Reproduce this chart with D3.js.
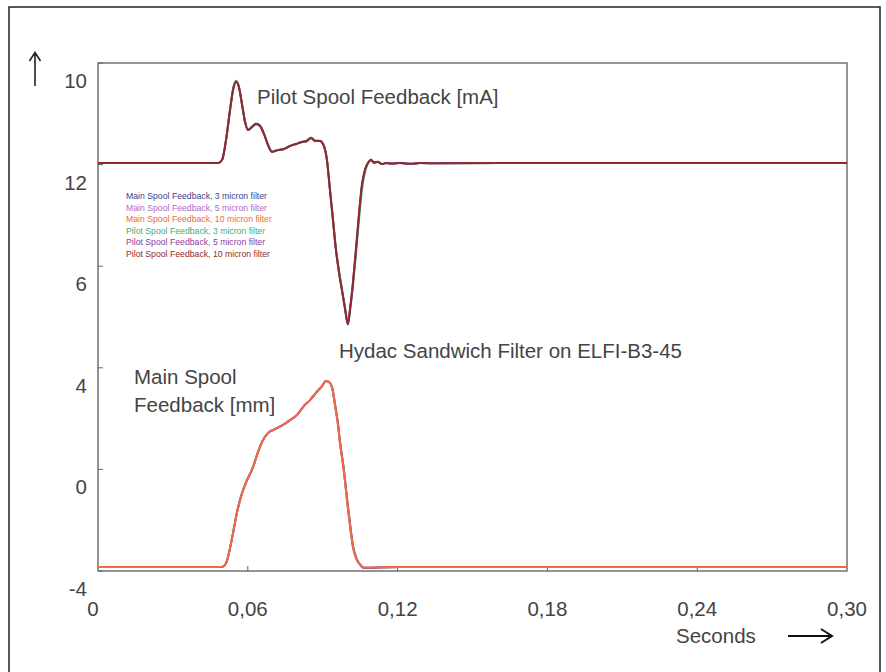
<!DOCTYPE html>
<html>
<head>
<meta charset="utf-8">
<script src="https://cdn.jsdelivr.net/npm/d3@7"></script>
<style>
  body { margin: 0; background: #fff; }
  text { font-family: "Liberation Sans", Arial, sans-serif; }
</style>
</head>
<body>
<svg id="chart"></svg>
<script>
// Time axis (seconds) and the six traces
const xTicks = [0, 0.06, 0.12, 0.18, 0.24, 0.30];
const xTickLabels = ['0', '0,06', '0,12', '0,18', '0,24', '0,30'];
const yTicks = [-4, 0, 4, 8, 12, 16];
const yTickLabels = ['-4', '0', '4', '6', '12', '10'];

const pilotTime = [0, 0.0481, 0.0497, 0.0513, 0.0529, 0.0541, 0.0553, 0.0565, 0.0577, 0.0589,
  0.0601, 0.0617, 0.0633, 0.0649, 0.0665, 0.0681, 0.0697, 0.0721, 0.0745, 0.0769,
  0.0793, 0.0817, 0.0837, 0.0853, 0.0869, 0.0889, 0.0905, 0.0917, 0.0929, 0.0941,
  0.0953, 0.0965, 0.0977, 0.0989, 0.1001, 0.1009, 0.1021, 0.1033, 0.1045, 0.1057,
  0.1069, 0.1081, 0.1093, 0.1105, 0.1121, 0.1137, 0.1153, 0.1177, 0.121, 0.125,
  0.129, 0.137, 0.161, 0.30];
const pilot3 = [12.06, 12.06, 12.2, 13.0, 14.2, 14.98, 15.3, 15.06, 14.38, 13.7,
  13.38, 13.5, 13.62, 13.54, 13.22, 12.78, 12.52, 12.58, 12.62, 12.74,
  12.82, 12.9, 12.95, 13.07, 12.95, 12.94, 12.74, 12.2, 11.05, 9.9,
  8.72, 7.85, 7.12, 6.4, 5.74, 6.2, 7.2, 8.45, 9.8, 11.0,
  11.7, 12.04, 12.2, 12.08, 12.12, 12.02, 12.06, 12.03, 12.07, 12.03,
  12.06, 12.05, 12.06, 12.06];
const pilot5 = [12.06, 12.06, 12.18, 12.98, 14.16, 14.95, 15.27, 15.03, 14.36, 13.68,
  13.36, 13.48, 13.6, 13.52, 13.2, 12.77, 12.5, 12.57, 12.61, 12.73,
  12.81, 12.89, 12.93, 13.05, 12.93, 12.93, 12.73, 12.18, 11.0, 9.82,
  8.64, 7.77, 7.06, 6.35, 5.7, 6.26, 7.32, 8.62, 10.0, 11.18,
  11.78, 12.06, 12.18, 12.06, 12.1, 12.02, 12.06, 12.04, 12.06, 12.03,
  12.06, 12.05, 12.06, 12.06];
const pilot10 = [12.06, 12.06, 12.18, 12.97, 14.15, 14.94, 15.25, 15.02, 14.35, 13.68,
  13.36, 13.48, 13.6, 13.52, 13.2, 12.77, 12.5, 12.57, 12.61, 12.73,
  12.81, 12.89, 12.93, 13.05, 12.93, 12.93, 12.73, 12.18, 11.0, 9.82,
  8.64, 7.77, 7.06, 6.35, 5.72, 6.28, 7.34, 8.64, 10.02, 11.2,
  11.79, 12.06, 12.18, 12.1, 12.1, 12.02, 12.06, 12.04, 12.06, 12.03,
  12.06, 12.05, 12.06, 12.06];

const mainTime = [0, 0.0497, 0.0513, 0.0529, 0.0541, 0.0557, 0.0577, 0.0597, 0.0621, 0.0641,
  0.0661, 0.0681, 0.0709, 0.0741, 0.0769, 0.0797, 0.0825, 0.0849, 0.0873, 0.0897,
  0.0913, 0.0925, 0.0937, 0.0949, 0.0961, 0.0969, 0.0985, 0.0997, 0.1009, 0.1021,
  0.1033, 0.1049, 0.1065, 0.1089, 0.1129, 0.121, 0.30];
const main3 = [-3.84, -3.84, -3.69, -3.09, -2.5, -1.68, -0.93, -0.42, 0.09, 0.69,
  1.16, 1.43, 1.59, 1.75, 1.94, 2.14, 2.5, 2.73, 3.01, 3.28,
  3.48, 3.44, 3.26, 2.6, 1.82, 1.12, -0.02, -1.1, -2.1, -2.98,
  -3.44, -3.74, -3.88, -3.88, -3.86, -3.84, -3.84];
const main5 = [-3.84, -3.84, -3.69, -3.09, -2.5, -1.68, -0.93, -0.42, 0.09, 0.69,
  1.16, 1.43, 1.59, 1.75, 1.94, 2.14, 2.5, 2.73, 3.01, 3.28,
  3.48, 3.44, 3.25, 2.56, 1.78, 1.07, -0.07, -1.16, -2.16, -3.03,
  -3.47, -3.74, -3.87, -3.87, -3.85, -3.84, -3.84];
const main10 = [-3.84, -3.84, -3.69, -3.09, -2.5, -1.68, -0.93, -0.42, 0.09, 0.69,
  1.16, 1.43, 1.59, 1.75, 1.94, 2.14, 2.5, 2.73, 3.01, 3.28,
  3.48, 3.44, 3.24, 2.54, 1.75, 1.04, -0.1, -1.2, -2.19, -3.06,
  -3.49, -3.74, -3.86, -3.86, -3.85, -3.84, -3.84];

const seriesNames = [
  'Main Spool Feedback, 3 micron filter',
  'Main Spool Feedback, 5 micron filter',
  'Main Spool Feedback, 10 micron filter',
  'Pilot Spool Feedback, 3 micron filter',
  'Pilot Spool Feedback, 5 micron filter',
  'Pilot Spool Feedback, 10 micron filter'
];
const seriesColors = ['#3d3f86', '#b267c8', '#ee6c3e', '#3fae7c', '#8d3d9c', '#8e2b2b'];

const series = [
  { time: mainTime, values: main3 },
  { time: mainTime, values: main5 },
  { time: mainTime, values: main10 },
  { time: pilotTime, values: pilot3 },
  { time: pilotTime, values: pilot5 },
  { time: pilotTime, values: pilot10 }
];

const W = 886, H = 672;
const plot = { left: 98, right: 847, top: 63, bottom: 571 };

const svg = d3.select('#chart').attr('width', W).attr('height', H);
svg.append('rect').attr('width', W).attr('height', H).attr('fill', '#fff');

// outer frame (bottom edge runs off the page)
svg.append('rect')
  .attr('x', 9).attr('y', 7)
  .attr('width', 871).attr('height', 700)
  .attr('fill', 'none').attr('stroke', '#222').attr('stroke-width', 1.5);

const x = d3.scaleLinear().domain([0, 0.30]).range([plot.left, plot.right]);
const y = d3.scaleLinear().domain([-4, 16]).range([plot.bottom, plot.top]);

// plot frame
svg.append('rect')
  .attr('x', plot.left).attr('y', plot.top)
  .attr('width', plot.right - plot.left).attr('height', plot.bottom - plot.top)
  .attr('fill', 'none').attr('stroke', '#666').attr('stroke-width', 1.4);

// y ticks: short marks inside, labels sit below each mark
const yAxis = svg.append('g');
yAxis.selectAll('line').data(yTicks).enter().append('line')
  .attr('x1', plot.left).attr('x2', plot.left + 5)
  .attr('y1', d => y(d)).attr('y2', d => y(d))
  .attr('stroke', '#666').attr('stroke-width', 1);
yAxis.selectAll('text').data(yTicks).enter().append('text')
  .attr('x', 87).attr('y', d => y(d) + 25)
  .attr('text-anchor', 'end')
  .attr('font-size', 20.5).attr('fill', '#444')
  .text((d, i) => yTickLabels[i]);

// x ticks
const xAxis = svg.append('g');
xAxis.selectAll('line').data(xTicks.slice(1, -1)).enter().append('line')
  .attr('x1', d => x(d)).attr('x2', d => x(d))
  .attr('y1', plot.bottom).attr('y2', plot.bottom - 5)
  .attr('stroke', '#666').attr('stroke-width', 1);
xAxis.selectAll('text').data(xTicks).enter().append('text')
  .attr('x', (d, i) => x(d) + (i === 0 ? -5 : 0)).attr('y', 616)
  .attr('text-anchor', 'middle')
  .attr('font-size', 20.5).attr('fill', '#444')
  .text((d, i) => xTickLabels[i]);

// traces
const line = d3.line()
  .x(d => x(d[0]))
  .y(d => y(d[1]))
  .curve(d3.curveMonotoneX);

svg.append('g').selectAll('path').data(series).enter().append('path')
  .attr('d', s => line(s.time.map((t, i) => [t, s.values[i]])))
  .attr('fill', 'none')
  .attr('stroke', (s, i) => seriesColors[i])
  .attr('stroke-width', 2)
  .attr('stroke-linejoin', 'round');

// legend
svg.append('g').selectAll('text').data(seriesNames).enter().append('text')
  .attr('x', 126).attr('y', (d, i) => 199 + i * 11.5)
  .attr('font-size', 8.7).attr('fill', (d, i) => seriesColors[i])
  .text(d => d);

// annotations
const notes = [
  { text: 'Pilot Spool Feedback [mA]', x: 257, y: 104 },
  { text: 'Hydac Sandwich Filter on ELFI-B3-45', x: 339, y: 358 },
  { text: 'Main Spool', x: 134, y: 384 },
  { text: 'Feedback [mm]', x: 134, y: 412 },
  { text: 'Seconds', x: 676, y: 643 }
];
svg.append('g').selectAll('text').data(notes).enter().append('text')
  .attr('x', d => d.x).attr('y', d => d.y)
  .attr('font-size', 20.5).attr('fill', '#444')
  .text(d => d.text);

// axis arrows
svg.append('path')
  .attr('d', 'M35,86V53M29.5,61L35,52.5L40.5,61')
  .attr('fill', 'none').attr('stroke', '#222').attr('stroke-width', 1.6);
svg.append('path')
  .attr('d', 'M788,636H832M821,629L832,636L821,643')
  .attr('fill', 'none').attr('stroke', '#111').attr('stroke-width', 2);
</script>
</body>
</html>
